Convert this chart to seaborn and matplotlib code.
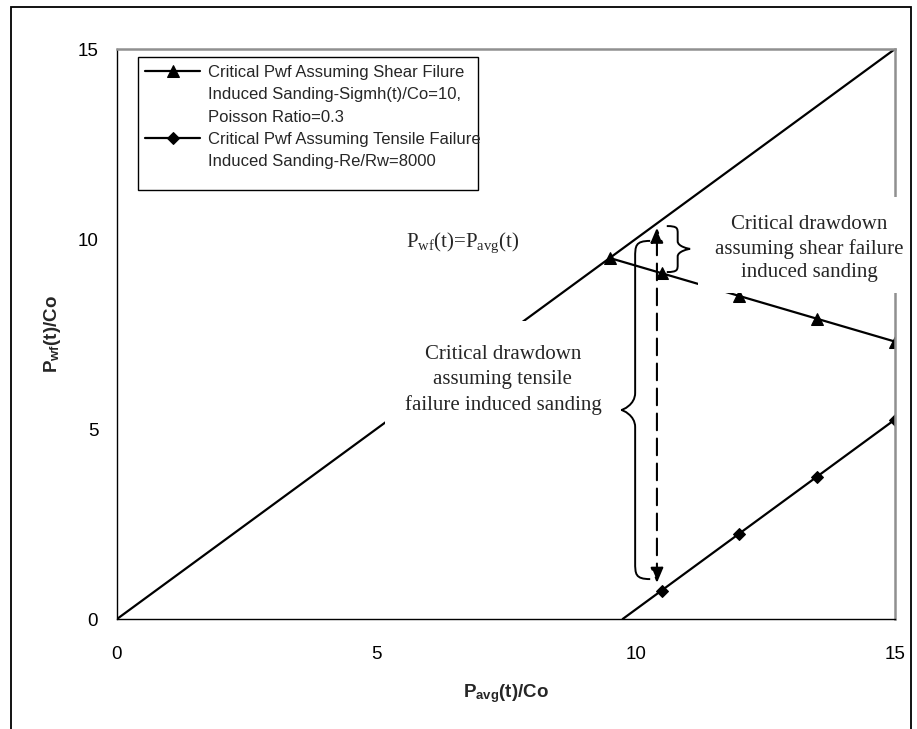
import numpy as np
import pandas as pd
import matplotlib
matplotlib.use("Agg")
import matplotlib.pyplot as plt
import seaborn as sns
from matplotlib.patches import Rectangle, PathPatch
from matplotlib.path import Path
from matplotlib.lines import Line2D

# ---------------- data ----------------
shear_x = [9.5, 10.5, 12.0, 13.5, 15.0]
shear_y = [9.5, 9.1, 8.5, 7.9, 7.3]
tensile_x = [10.5, 12.0, 13.5, 15.0]
tensile_y = [0.75, 2.25, 3.75, 5.25]
diag_x = [0, 15]
diag_y = [0, 15]
ticks = [0, 5, 10, 15]
shear_label = ["Critical Pwf Assuming Shear Filure", "Induced Sanding-Sigmh(t)/Co=10,", "Poisson Ratio=0.3"]
tensile_label = ["Critical Pwf Assuming Tensile Failure", "Induced Sanding-Re/Rw=8000"]

sns.set_style("white")
plt.rcParams["font.family"] = ["Liberation Sans", "DejaVu Sans"]
plt.rcParams["mathtext.fontset"] = "custom"
plt.rcParams["mathtext.rm"] = "Liberation Sans"
plt.rcParams["mathtext.bf"] = "Liberation Sans:bold"
plt.rcParams["mathtext.it"] = "Liberation Serif"

W, H = 917, 729
fig = plt.figure(figsize=(W / 100, H / 100), dpi=100)
ax = fig.add_axes([117 / W, 1 - 619 / H, (895 - 117) / W, (619 - 49) / H])

df_s = pd.DataFrame({"x": shear_x, "y": shear_y})
df_t = pd.DataFrame({"x": tensile_x, "y": tensile_y})
df_d = pd.DataFrame({"x": diag_x, "y": diag_y})

sns.lineplot(data=df_d, x="x", y="y", color="black", lw=1.6, ax=ax, legend=False, sort=False)
sns.lineplot(data=df_s, x="x", y="y", color="black", lw=1.6, marker="^", markersize=9,
             markeredgecolor="black", markerfacecolor="black", ax=ax, label=shear_label[0], sort=False)
sns.lineplot(data=df_t, x="x", y="y", color="black", lw=1.6, marker="D", markersize=6.5,
             markeredgecolor="black", markerfacecolor="black", ax=ax, label=tensile_label[0], sort=False)

# extension of tensile line below the first point
ax.plot([tensile_x[0], tensile_x[0] - 0.75], [tensile_y[0], tensile_y[0] - 0.75], color="black", lw=1.6)

ax.set_xlim(0, 15)
ax.set_ylim(0, 15)
ax.set_xticks(ticks)
ax.set_yticks(ticks)
ax.tick_params(direction="out", length=4.5, width=1, colors="black", labelsize=13.5)
ax.tick_params(axis="y", pad=9)
ax.tick_params(axis="x", pad=15)
for s in ["left", "bottom"]:
    ax.spines[s].set_color("black")
    ax.spines[s].set_linewidth(1.0)
for s in ["top", "right"]:
    ax.spines[s].set_color("#909090")
    ax.spines[s].set_linewidth(1.8)

ax.set_xlabel(r"P$_{\mathbf{avg}}$(t)/Co", fontsize=13.5, fontweight="bold", labelpad=14)
ax.set_ylabel(r"P$_{\mathbf{wf}}$(t)/Co", fontsize=13.5, fontweight="bold", labelpad=10)

# legend: one row per text line so that the markers sit on the first line of each entry
hs, ls = ax.get_legend_handles_labels()
blank = Line2D([], [], linestyle="none", marker=None)
handles = [hs[0], blank, blank, hs[1], blank]
labels = shear_label + tensile_label
leg = ax.legend(handles, labels, loc="upper left", bbox_to_anchor=(145 / W, 1 - 65 / H),
                bbox_transform=fig.transFigure, frameon=False, fontsize=12, handlelength=3.3,
                handletextpad=0.45, labelspacing=0.44, borderpad=0, borderaxespad=0)
leg.set_zorder(6)
ax.add_patch(Rectangle((138 / W, 1 - 190 / H), (478 - 138) / W, (190 - 57) / H,
                       transform=fig.transFigure, facecolor="white", edgecolor="black",
                       lw=1.0, zorder=5, clip_on=False))

# white text boxes
ax.add_patch(Rectangle((11.2, 8.58), 15.45 - 11.2, 11.1 - 8.58, facecolor="white",
                       edgecolor="none", zorder=3, clip_on=False))
ax.add_patch(Rectangle((5.17, 4.58), 9.7 - 5.17, 7.85 - 4.58, facecolor="white",
                       edgecolor="none", zorder=3, clip_on=False))

serif = ["Liberation Serif", "DejaVu Serif"]
ax.text(13.35, 9.75, "Critical drawdown\nassuming shear failure\ninduced sanding", ha="center",
        va="center", fontsize=15, family=serif, linespacing=1.32, zorder=4)
ax.text(7.44, 6.28, "Critical drawdown\nassuming tensile\nfailure induced sanding", ha="center",
        va="center", fontsize=15, family=serif, linespacing=1.42, zorder=4)
ax.text(6.67, 9.9, r"P$_{\mathit{wf}}$(t)=P$_{\mathit{avg}}$(t)", ha="center", va="center",
        fontsize=15, family=serif, zorder=4)

# dashed double arrow
ax.annotate("", xy=(10.41, 10.3), xytext=(10.41, 0.95),
            arrowprops=dict(arrowstyle="<|-|>,head_length=0.9,head_width=0.38", color="black",
                            lw=1.5, linestyle=(0, (8, 4)), shrinkA=0, shrinkB=0), zorder=4)

# curly braces
def brace_path(xt, xv, xc, y0, y1, ym, r):
    verts = [
        (xt, y0), (xv, y0), (xv, y0 - r * 0.3), (xv, y0 - r),
        (xv, ym + r),
        (xv, ym + r * 0.3), (xc + (xv - xc) * 0.1, ym), (xc, ym),
        (xc + (xv - xc) * 0.1, ym), (xv, ym - r * 0.3), (xv, ym - r),
        (xv, y1 + r),
        (xv, y1 + r * 0.3), (xv, y1), (xt, y1),
    ]
    codes = [Path.MOVETO, Path.CURVE4, Path.CURVE4, Path.CURVE4,
             Path.LINETO,
             Path.CURVE4, Path.CURVE4, Path.CURVE4,
             Path.CURVE4, Path.CURVE4, Path.CURVE4,
             Path.LINETO,
             Path.CURVE4, Path.CURVE4, Path.CURVE4]
    return Path(verts, codes)

ax.add_patch(PathPatch(brace_path(10.28, 9.99, 9.72, 9.95, 1.05, 5.5, 0.45),
                       facecolor="none", edgecolor="black", lw=1.4, zorder=4, clip_on=False))
ax.add_patch(PathPatch(brace_path(10.6, 10.81, 11.05, 10.34, 9.13, 9.74, 0.2),
                       facecolor="none", edgecolor="black", lw=1.4, zorder=4, clip_on=False))

# figure border
fig.add_artist(Rectangle((11 / W, -0.05), (911 - 11) / W, 1.05 - 7 / H, transform=fig.transFigure,
                         facecolor="none", edgecolor="black", lw=1.3, zorder=10))

fig.savefig("out.png", dpi=100)
